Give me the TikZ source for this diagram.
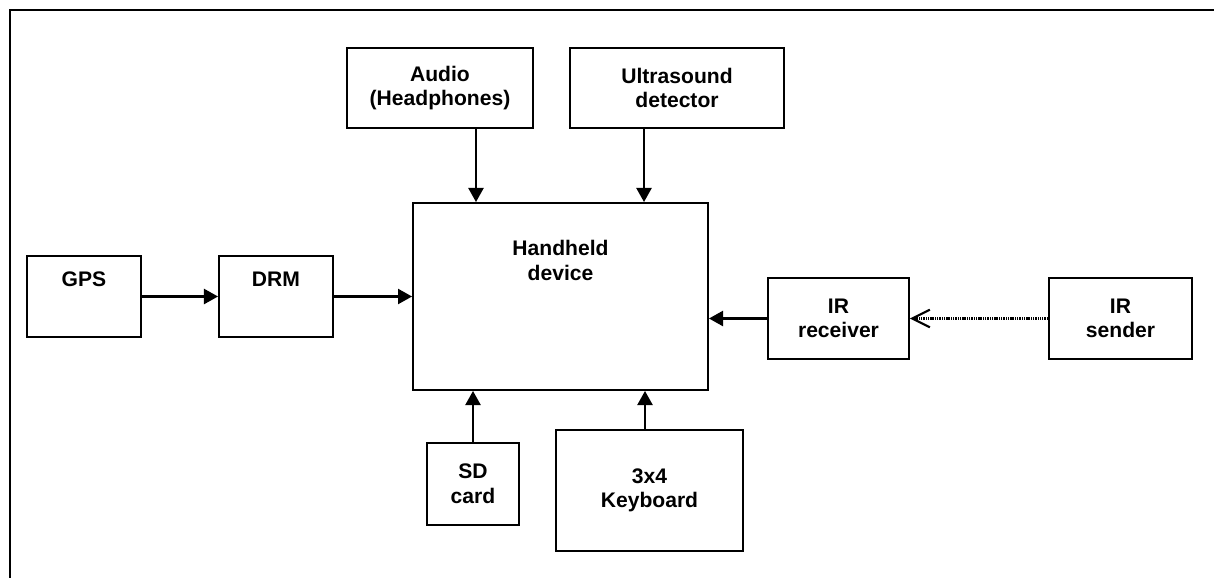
\documentclass[tikz,border=0pt]{standalone}
\usepackage{fontspec}
\setmainfont{Liberation Sans}
\usetikzlibrary{arrows.meta}
\tikzset{
  blockbox/.style={draw, line width=1.1pt, inner sep=0pt, align=center,
    font=\fontsize{12pt}{14pt}\selectfont\bfseries},
  toptext/.style={anchor=base, inner sep=0pt, align=center,
    font=\fontsize{12pt}{14pt}\selectfont\bfseries},
  feed/.style={line width=1.4pt, -{Triangle[length=8pt,width=8.5pt]}},
  beam/.style={line width=1.2pt, dash pattern=on 0.8pt off 0.5pt,
    -{Straight Barb[length=10pt,width=10pt,line width=1.2pt]}}
}

\begin{document}
\begin{tikzpicture}[x=0.02cm,y=-0.02cm]
	\useasboundingbox (0,0) rectangle (1214,578);
	\draw[line width=1.2pt] (1214,10) -- (10,10) -- (10,578);
	
	\node[blockbox, minimum width=2.28cm, minimum height=1.62cm] at (84,296.5) (gps) {};
	\node[toptext] at ([yshift=-0.62cm]gps.north) (gpstext) {GPS};
	\node[blockbox, minimum width=2.28cm, minimum height=1.62cm] at (276,296.5) (drm) {};
	\node[toptext] at ([yshift=-0.62cm]drm.north) (drmtext) {DRM};
	
	\node[blockbox, minimum width=5.9cm, minimum height=3.74cm] at (560.5,296.5) (hand) {};
	\node[toptext] at ([yshift=-1.57cm]hand.north) (handtext) {Handheld\\device};
	
	\node[blockbox, minimum width=3.72cm, minimum height=1.6cm] at (440,88) (audio) {Audio\\(Headphones)};
	\node[blockbox, minimum width=4.28cm, minimum height=1.6cm] at (677,88) (ultra) {Ultrasound\\detector};
	
	\node[blockbox, minimum width=2.82cm, minimum height=1.62cm] at (838.5,318.5) (irr) {IR\\receiver};
	\node[blockbox, minimum width=2.86cm, minimum height=1.62cm] at (1120.5,318.5) (irs) {IR\\sender};
	
	\node[blockbox, minimum width=1.84cm, minimum height=1.64cm] at (473,484) (sd) {SD\\card};
	\node[blockbox, minimum width=3.74cm, minimum height=2.42cm] at (649.5,490.5) (kb) {3x4\\Keyboard};
	
	\coordinate (audiofoot) at ([xshift=0.72cm]audio.south);
	\coordinate (ultrafoot) at ([xshift=-0.66cm]ultra.south);
	\coordinate (kbtop) at ([xshift=-0.09cm]kb.north);
	
	\draw[feed] (gps) -- (drm);
	\draw[feed] (drm) -- (hand);
	\draw[feed] (audiofoot) -- (audiofoot |- hand.north);
	\draw[feed] (ultrafoot) -- (ultrafoot |- hand.north);
	\draw[feed] (sd.north) -- (sd.north |- hand.south);
	\draw[feed] (kbtop) -- (kbtop |- hand.south);
	\draw[feed] (irr.west) -- (irr.west -| hand.east);
	\draw[beam] (irs.west) -- (irr.east);
\end{tikzpicture}
\end{document}
